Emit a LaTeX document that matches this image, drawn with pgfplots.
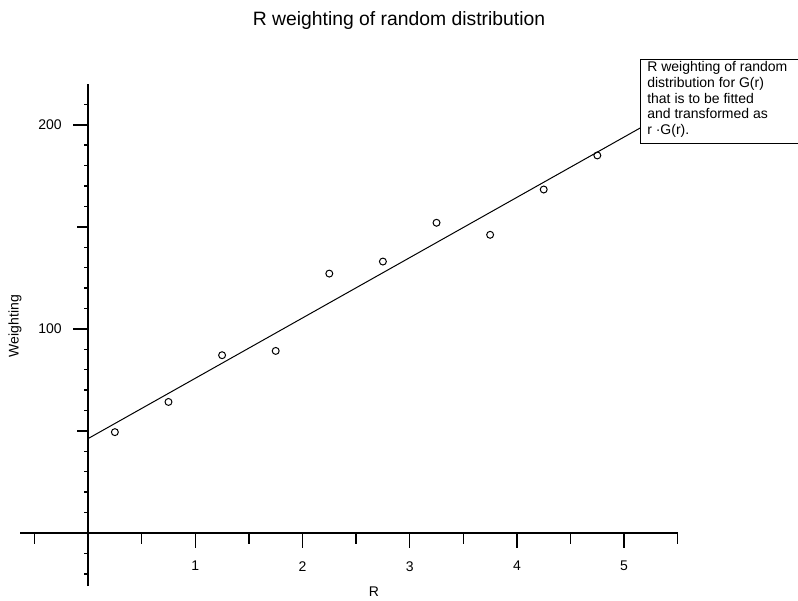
\documentclass[border=0pt]{standalone}
\usepackage{pgfplots}
\pgfplotsset{compat=1.18}
\usepackage{fontspec}
\setmainfont{Liberation Sans}
\begin{document}
\begin{tikzpicture}
\useasboundingbox (0,0) rectangle (598.5pt,-450pt);
\begin{axis}[
  at={(15pt,-439.5pt)}, anchor=south west,
  scale only axis, width=493.3pt, height=376.5pt,
  xmin=-0.635, xmax=5.5, ymin=-26, ymax=220,
  axis lines=left, axis line style={-, line width=1.1pt},
  axis x line shift=-39.78pt, axis y line shift=-51.07pt,
  tick align=outside,
  xtick={1,2,3,4,5}, ytick={100,200},
  extra x ticks={-0.5,0.5,1.5,2.5,3.5,4.5,5.5}, extra x tick labels={},
  extra y ticks={50,150}, extra y tick labels={},
  extra tick style={major tick length=8.25pt},
  minor ytick={-20,-10,10,20,30,40,60,70,80,90,110,120,130,140,160,170,180,190,210},
  major tick length=11.25pt, minor tick length=3pt,
  every tick/.style={black, line width=1.1pt},
  tick label style={font=\fontsize{10.5}{12}\selectfont},
  xticklabel style={yshift=-6.5pt},
  yticklabel style={xshift=-5pt},
  /pgf/number format/assume math mode=true,
  clip=false,
]
\addplot[only marks, mark=o, mark size=2.6pt, mark options={line width=0.75pt}] coordinates {
(0.25,49.4) (0.75,64.2) (1.25,87.1) (1.75,89.2) (2.25,127.1)
(2.75,133.0) (3.25,152.0) (3.75,146.1) (4.25,168.3) (4.75,185.0)};
\addplot[black, line width=0.75pt, no marks] coordinates {(0,46.24) (5.5,208.8)};
\end{axis}
\begin{scope}[x=0.75pt,y=-0.75pt]
\draw[fill=white, line width=0.75pt] (640,59) rectangle (810,143);
\node[anchor=north west, inner sep=0, align=left, font=\fontsize{10.5}{11.85}\selectfont] at (647,61) {R weighting of random\\distribution for G(r)\\that is to be fitted\\and transformed as\\r ·G(r).};
\node[font=\fontsize{14.5}{17}\selectfont] at (399,21) {R weighting of random distribution};
\node[font=\fontsize{10.5}{12}\selectfont, rotate=90] at (15,326) {Weighting};
\node[font=\fontsize{10.5}{12}\selectfont] at (374,592) {R};
\end{scope}
\end{tikzpicture}
\end{document}
